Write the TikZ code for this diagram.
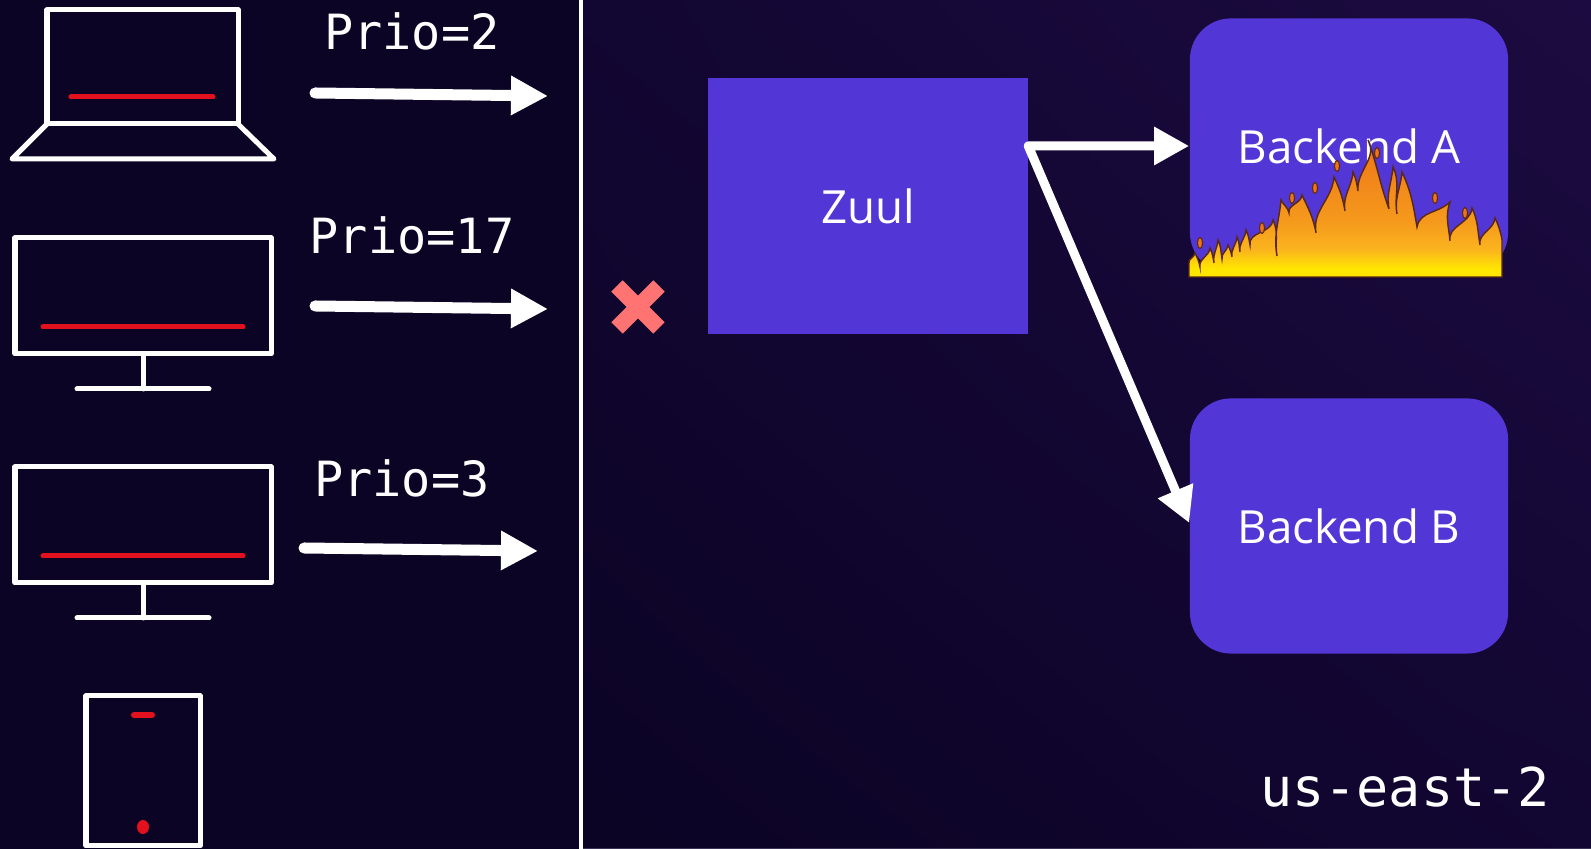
\documentclass[tikz,border=0pt]{standalone}
\usepackage{fontspec}
\setmainfont{Open Sans}
\setmonofont{DejaVu Sans Mono}
\usetikzlibrary{arrows.meta, positioning, shapes, shadings}

\definecolor{night}{HTML}{0B0424}
\definecolor{duskmid}{HTML}{120632}
\definecolor{dusk}{HTML}{1C0B40}
\definecolor{rim}{HTML}{3C3456}
\definecolor{zuulblue}{HTML}{5336D6}
\definecolor{alarm}{HTML}{E3101E}
\definecolor{crosspink}{HTML}{FF7373}
\definecolor{fireyellow}{HTML}{FFE600}
\definecolor{fireamber}{HTML}{FBB41E}
\definecolor{fireorange}{HTML}{F59A1C}
\definecolor{firered}{HTML}{EE7418}
\definecolor{flameedge}{HTML}{5A2810}

\pgfdeclareverticalshading{blaze}{100bp}{color(0bp)=(fireyellow); color(25bp)=(fireyellow);
    color(28bp)=(fireyellow); color(35bp)=(fireamber); color(45bp)=(fireorange);
    color(75bp)=(firered); color(100bp)=(firered)}

\begin{document}
\begin{tikzpicture}
[
x=0.01cm, y=0.01cm,
box/.style={fill=zuulblue, text=white, minimum width=3.19cm,
            minimum height=2.56cm, font=\fontsize{13}{15}\selectfont},
backend/.style={box, rounded corners=0.41cm, minimum width=3.18cm,
                minimum height=2.55cm},
device/.style={draw=white, line width=0.05cm, line cap=round, line join=round},
screenline/.style={draw=alarm, line width=0.05cm, line cap=round},
request/.style={draw=white, line width=0.11cm, line cap=round,
                -{Triangle[length=0.37cm, width=0.37cm]}},
route/.style={draw=white, line width=0.09cm, line cap=round, line join=round,
              {Triangle[length=0.35cm, width=0.36cm]}-{Triangle[length=0.35cm, width=0.36cm]}},
prio/.style={text=white, font=\ttfamily\fontsize{13.8}{16}\selectfont},
flames/.style={shading=blaze, draw=flameedge, line width=0.4pt},
ember/.style={fill=firered, draw=flameedge, line width=0.3pt},
rise/.style={out=100, in=-95},
fall/.style={out=-65, in=100}
]

    % backdrop and the split between clients and region
    \useasboundingbox (0,0) rectangle (1591,849);
    \fill[night] (0,0) rectangle (581,849);
    \shade[lower left=night, upper left=duskmid, upper right=dusk, lower right=duskmid]
        (581,0) rectangle (1591,849);
    \draw[rim, line width=0.4pt] (581,0.4) -- (1591,0.4);
    \draw[white, line width=0.045cm] (581,0) -- (581,849);

    % laptop
    \draw[device] (47,725) rectangle (238,839);
    \draw[device] (47,725) -- (12,690) -- (274,690) -- (238,725);
    \draw[screenline] (71,752) -- (213,752);
    % two desktops
    \foreach \dy in {0,229} {
        \begin{scope}[shift={(0,-\dy)}]
            \draw[device] (15,495) rectangle (271,611);
            \draw[device] (143,495) -- (143,460) (77,460) -- (209,460);
            \draw[screenline] (43,522) -- (243,522);
        \end{scope}
    }
    % phone
    \draw[device] (86,3) rectangle (200,153);
    \draw[alarm, line width=0.06cm, line cap=round] (134,134) -- (152,134);
    \fill[alarm] (143,22) ellipse (6 and 7);

    % requests with their priorities
    \coordinate (c1) at (315,756);
    \coordinate (s1) at (548,753);
    \coordinate (c2) at (315,543);
    \coordinate (s2) at (548,540);
    \coordinate (c3) at (304,301);
    \coordinate (s3) at (538,298);
    \draw[request] (c1) -- (s1);
    \draw[request] (c2) -- (s2);
    \draw[request] (c3) -- (s3);
    \node[prio] (prio1) at (412,818) {Prio=2};
    \node[prio] (prio2) at (412,614) {Prio=17};
    \node[prio] (prio3) at (402,371) {Prio=3};

    % rejected
    \draw[crosspink, line width=0.16cm] (617,521) -- (659,563) (617,563) -- (659,521);

    \node[box] (zuul) at (868,643) {Zuul};
    \node[backend] (backendA) at (1349,703) {Backend A};
    \node[backend] (backendB) at (1349,323) {Backend B};
    \coordinate (fork) at (zuul.east |- backendA.west);
    \draw[route] (backendA.west) -- (fork) -- ([yshift=0.03cm]backendB.west);

    % backend A is on fire
    \path[flames]
        (1189,572) -- (1189,586)
        to[rise] (1195,596) to[fall] (1200,582) to[rise] (1210,601) to[fall] (1214,586)
        to[rise] (1218,609) to[fall] (1222,590) to[rise] (1228,604) to[fall] (1232,592)
        to[rise] (1237,612) to[fall] (1240,597) to[rise] (1246,619) to[fall] (1250,604)
        to[rise] (1273,629) to[fall] (1277,593) to[rise] (1281,649) to[fall] (1289,636)
        to[rise] (1302,654) to[fall] (1316,616) to[rise] (1334,672) to[fall] (1345,638)
        to[rise] (1353,677) to[fall] (1358,658)
        to[out=95, in=-60] (1368,709) to[out=-70, in=110] (1389,640)
        to[rise] (1393,682) to[fall] (1397,635) to[rise] (1402,677) to[fall] (1417,622)
        to[out=80, in=-135] (1450,647) to[out=-110, in=95] (1450,608)
        to[rise] (1472,641) to[fall] (1480,604) to[rise] (1495,631) to[fall] (1502,609)
        -- (1502,572) -- cycle;
    \foreach \x/\y in {1337/683, 1315/661, 1292/651, 1262/621, 1377/696, 1435/651,
                       1465/636, 1200/606}
        \path[ember] (\x,\y) ellipse (2.5 and 5.5);

    \node[text=white, font=\ttfamily\fontsize{15.2}{18}\selectfont] (region) at (1405,62) {us-east-2};
\end{tikzpicture}
\end{document}
